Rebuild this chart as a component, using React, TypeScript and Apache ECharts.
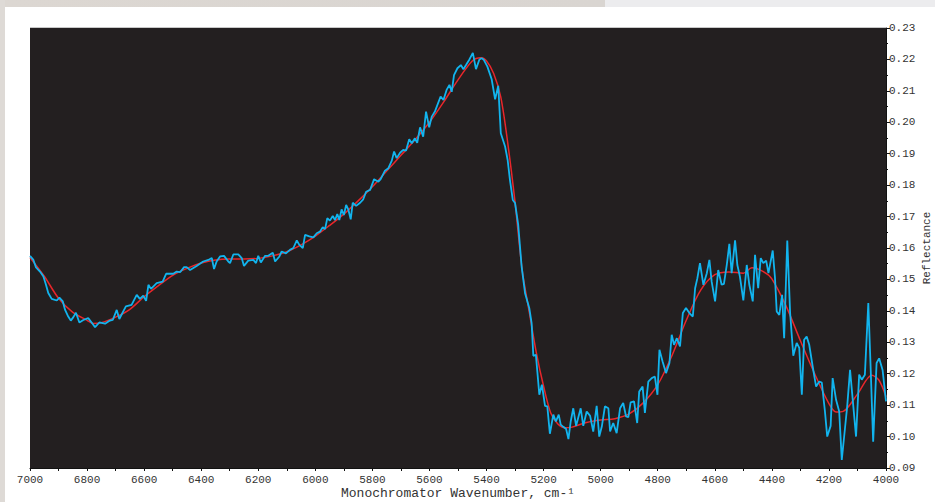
import React, { useEffect, useRef } from "react";
import * as echarts from "echarts";

const blueWavenumber = [
  7000, 6988, 6979, 6965, 6953, 6944, 6936, 6924, 6906, 6897, 6885, 6877, 6866, 6857, 6848, 6839, 6827, 6813, 6796, 6784,
  6772, 6757, 6737, 6720, 6710, 6696, 6687, 6664, 6644, 6626, 6615, 6603, 6593, 6585, 6576, 6556, 6535, 6523, 6498, 6486,
  6474, 6460, 6451, 6439, 6416, 6393, 6375, 6363, 6355, 6346, 6334, 6320, 6305, 6299, 6287, 6270, 6258, 6250, 6235, 6217,
  6208, 6200, 6191, 6176, 6165, 6149, 6141, 6126, 6118, 6103, 6089, 6077, 6065, 6056, 6044, 6036, 6021, 6007, 5995, 5984,
  5974, 5966, 5958, 5949, 5939, 5931, 5923, 5916, 5908, 5900, 5892, 5884, 5876, 5869, 5857, 5843, 5832, 5822, 5808, 5794,
  5779, 5771, 5756, 5744, 5732, 5724, 5715, 5703, 5692, 5682, 5671, 5662, 5651, 5643, 5633, 5622, 5612, 5601, 5592, 5581,
  5561, 5551, 5540, 5530, 5522, 5514, 5502, 5490, 5481, 5472, 5460, 5448, 5437, 5425, 5417, 5409, 5397, 5382, 5370, 5359,
  5350, 5335, 5326, 5318, 5308, 5300, 5289, 5277, 5265, 5250, 5242, 5236, 5227, 5215, 5206, 5195, 5187, 5178, 5166, 5157,
  5147, 5140, 5131, 5121, 5113, 5105, 5096, 5086, 5078, 5070, 5061, 5049, 5037, 5026, 5014, 5005, 4996, 4985, 4973, 4967,
  4956, 4944, 4932, 4921, 4911, 4903, 4895, 4883, 4872, 4865, 4853, 4845, 4833, 4821, 4810, 4801, 4794, 4783, 4771, 4759,
  4751, 4743, 4733, 4722, 4712, 4701, 4689, 4677, 4669, 4661, 4652, 4640, 4628, 4619, 4611, 4599, 4588, 4576, 4568, 4558,
  4549, 4541, 4529, 4521, 4512, 4500, 4488, 4479, 4467, 4459, 4448, 4439, 4430, 4420, 4412, 4397, 4389, 4383, 4374, 4364,
  4357, 4346, 4336, 4325, 4313, 4304, 4295, 4287, 4278, 4269, 4257, 4245, 4234, 4225, 4214, 4206, 4194, 4187, 4175, 4164,
  4155, 4144, 4136, 4126, 4115, 4105, 4094, 4085, 4074, 4062, 4054, 4045, 4033, 4024, 4012, 4000,
];

const blueReflectance = [
  0.1575, 0.1562, 0.1538, 0.1525, 0.1509, 0.1483, 0.1457, 0.1438, 0.1433, 0.1442, 0.143, 0.1403, 0.1382, 0.1369, 0.138, 0.1394, 0.1363, 0.1371, 0.1377, 0.1363,
  0.1348, 0.1363, 0.1359, 0.1369, 0.1371, 0.1403, 0.1374, 0.1414, 0.1419, 0.1451, 0.1438, 0.1448, 0.1432, 0.1483, 0.147, 0.1488, 0.1493, 0.1518, 0.1518, 0.1525,
  0.1523, 0.1539, 0.1539, 0.153, 0.1543, 0.1557, 0.1562, 0.1568, 0.1533, 0.1557, 0.1573, 0.1575, 0.1557, 0.1552, 0.158, 0.158, 0.1568, 0.1543, 0.156, 0.1562,
  0.1552, 0.1575, 0.1554, 0.1575, 0.1575, 0.1585, 0.1557, 0.1573, 0.1589, 0.1583, 0.1594, 0.16, 0.1624, 0.161, 0.16, 0.1642, 0.1637, 0.1634, 0.1647, 0.1652,
  0.1666, 0.166, 0.1695, 0.1687, 0.1702, 0.1689, 0.1708, 0.1689, 0.1723, 0.1705, 0.1737, 0.1721, 0.1691, 0.1744, 0.1734, 0.1744, 0.1755, 0.1779, 0.1785, 0.1819,
  0.1811, 0.1819, 0.1846, 0.1854, 0.1878, 0.1907, 0.1886, 0.1903, 0.1912, 0.191, 0.1946, 0.1933, 0.1949, 0.1935, 0.1984, 0.1954, 0.2034, 0.1984, 0.2018, 0.2034,
  0.2082, 0.2071, 0.2103, 0.2119, 0.2097, 0.215, 0.2172, 0.2182, 0.2169, 0.2182, 0.22, 0.2221, 0.2169, 0.22, 0.2204, 0.2198, 0.2177, 0.2137, 0.2073, 0.2116,
  0.1965, 0.1923, 0.188, 0.1817, 0.1753, 0.1743, 0.1674, 0.1541, 0.1456, 0.1408, 0.1361, 0.1257, 0.126, 0.1133, 0.1165, 0.1098, 0.1096, 0.1009, 0.107, 0.1048,
  0.107, 0.1038, 0.1031, 0.1024, 0.0992, 0.1048, 0.109, 0.1034, 0.1062, 0.109, 0.1034, 0.108, 0.1066, 0.1016, 0.1098, 0.1, 0.1032, 0.1096, 0.109, 0.1016,
  0.1043, 0.1011, 0.109, 0.1107, 0.1064, 0.1062, 0.1109, 0.1112, 0.1043, 0.1143, 0.1159, 0.1075, 0.1175, 0.1186, 0.1191, 0.1133, 0.1276, 0.1239, 0.1202, 0.1234,
  0.1324, 0.1292, 0.1313, 0.1287, 0.1393, 0.1409, 0.1393, 0.1382, 0.1472, 0.1504, 0.1552, 0.1483, 0.152, 0.1562, 0.1493, 0.143, 0.153, 0.1483, 0.1486, 0.1546,
  0.1613, 0.152, 0.1624, 0.1546, 0.1509, 0.1433, 0.1546, 0.1483, 0.143, 0.1578, 0.1472, 0.1568, 0.1552, 0.156, 0.152, 0.1592, 0.1504, 0.1398, 0.1387, 0.1451,
  0.1313, 0.1624, 0.1393, 0.1257, 0.1298, 0.1282, 0.1133, 0.1308, 0.1318, 0.1292, 0.1223, 0.1159, 0.1175, 0.1172, 0.108, 0.1, 0.1034, 0.1186, 0.1117, 0.108,
  0.0926, 0.1024, 0.1096, 0.1212, 0.1101, 0.1, 0.1197, 0.1181, 0.1197, 0.1425, 0.1223, 0.0984, 0.1234, 0.1249, 0.1212, 0.1112,
];

const redWavenumber = [
  7000, 6950, 6900, 6850, 6800, 6780, 6750, 6700, 6650, 6600, 6550, 6500, 6450, 6400, 6350, 6300, 6250, 6200, 6150, 6100,
  6050, 6000, 5950, 5900, 5850, 5800, 5750, 5700, 5650, 5600, 5550, 5500, 5450, 5420, 5400, 5375, 5350, 5325, 5300, 5275,
  5250, 5225, 5200, 5175, 5150, 5125, 5100, 5050, 5000, 4950, 4900, 4850, 4800, 4750, 4700, 4650, 4600, 4550, 4500, 4470,
  4430, 4400, 4350, 4300, 4250, 4200, 4175, 4150, 4100, 4050, 4025, 4000,
];

const redReflectance = [
  0.157, 0.151, 0.144, 0.1395, 0.137, 0.136, 0.1362, 0.138, 0.1405, 0.1445, 0.148, 0.1513, 0.1535, 0.1552, 0.1562, 0.1565, 0.1565, 0.1567, 0.1575, 0.1588,
  0.161, 0.1638, 0.1672, 0.1708, 0.175, 0.1795, 0.1845, 0.1895, 0.1945, 0.2, 0.2065, 0.2135, 0.2195, 0.2205, 0.2195, 0.2155, 0.208, 0.193, 0.1745, 0.153,
  0.1395, 0.1265, 0.116, 0.1075, 0.104, 0.1028, 0.103, 0.1045, 0.1053, 0.1057, 0.1072, 0.1108, 0.1165, 0.1258, 0.137, 0.1465, 0.1515, 0.1524, 0.152, 0.1537,
  0.1525, 0.1502, 0.1415, 0.1305, 0.12, 0.1105, 0.1078, 0.108, 0.1135, 0.1195, 0.118, 0.1127,
];

const xLabelStep = 200;

export default function App() {
  const ref = useRef<HTMLDivElement>(null);
  useEffect(() => {
    if (!ref.current) return;
    const chart = echarts.init(ref.current, null, { renderer: "svg" });
    const blue = blueWavenumber.map((w, i) => [w, blueReflectance[i]]);
    const red = redWavenumber.map((w, i) => [w, redReflectance[i]]);
    const font = "'Liberation Mono', 'DejaVu Sans Mono', monospace";
    chart.setOption({
      animation: false,
      backgroundColor: "#ffffff",
      grid: {
        left: 30,
        right: 49,
        top: 28,
        bottom: 34,
        show: true,
        backgroundColor: "#231f20",
        borderWidth: 0,
        containLabel: false,
        outerBoundsMode: "none",
      },
      graphic: [
        {
          type: "rect",
          z: -10,
          silent: true,
          shape: { x: 0, y: 0, width: 605, height: 7 },
          style: {
            fill: new echarts.graphic.LinearGradient(0, 0, 1, 0, [
              { offset: 0, color: "#dcd7d2" },
              { offset: 1, color: "#d9d5d1" },
            ]),
          },
        },
        {
          type: "rect",
          z: -10,
          silent: true,
          shape: { x: 605, y: 0, width: 330, height: 7 },
          style: { fill: "#ececee" },
        },
        {
          type: "rect",
          z: -10,
          silent: true,
          shape: { x: 0, y: 0, width: 5, height: 502 },
          style: { fill: "#dedad6" },
        },
        {
          type: "line",
          silent: true,
          shape: { x1: 30, y1: 27.5, x2: 886, y2: 27.5 },
          style: { stroke: "#c8c8c8", lineWidth: 1 },
        },
      ],
      xAxis: {
        type: "value",
        min: 4000,
        max: 7000,
        interval: 100,
        inverse: true,
        position: "bottom",
        name: "Monochromator Wavenumber, cm-¹",
        nameLocation: "middle",
        nameGap: 19,
        nameMoveOverlap: false,
        nameTextStyle: { fontFamily: font, fontSize: 13, color: "#333", lineHeight: 13 },
        axisLine: { show: true, lineStyle: { color: "#111", width: 1 } },
        axisTick: { show: true, length: 3, inside: false, lineStyle: { color: "#111" } },
        axisLabel: {
          show: true,
          fontFamily: font,
          fontSize: 11,
          color: "#333",
          margin: 6,
          showMinLabel: true,
          showMaxLabel: true,
          formatter: (v: number) => (v % xLabelStep === 0 ? String(v) : ""),
        },
        splitLine: { show: false },
      },
      yAxis: {
        type: "value",
        min: 0.09,
        max: 0.23,
        interval: 0.01,
        position: "right",
        name: "Reflectance",
        nameLocation: "middle",
        nameRotate: 90,
        nameGap: 35,
        nameMoveOverlap: false,
        nameTextStyle: { fontFamily: font, fontSize: 11, color: "#333", lineHeight: 11 },
        axisLine: { show: true, lineStyle: { color: "#111", width: 1 } },
        axisTick: { show: true, length: 4, inside: false, lineStyle: { color: "#111" } },
        minorTick: { show: true, splitNumber: 2, length: 2, lineStyle: { color: "#111" } },
        axisLabel: {
          fontFamily: font,
          fontSize: 11,
          color: "#333",
          margin: 3,
          formatter: (v: number) => v.toFixed(2),
        },
        splitLine: { show: false },
      },
      series: [
        {
          type: "line",
          name: "smoothed",
          data: red,
          showSymbol: false,
          smooth: 0.3,
          lineStyle: { color: "#e8262b", width: 1.5 },
          z: 2,
        },
        {
          type: "line",
          name: "measured",
          data: blue,
          showSymbol: false,
          lineStyle: { color: "#12b4ee", width: 1.8 },
          z: 3,
        },
      ],
    });
    return () => chart.dispose();
  }, []);
  return (
    <div
      ref={ref}
      style={{ position: "fixed", left: 0, top: 0, width: 935, height: 502, background: "#ffffff" }}
    />
  );
}
